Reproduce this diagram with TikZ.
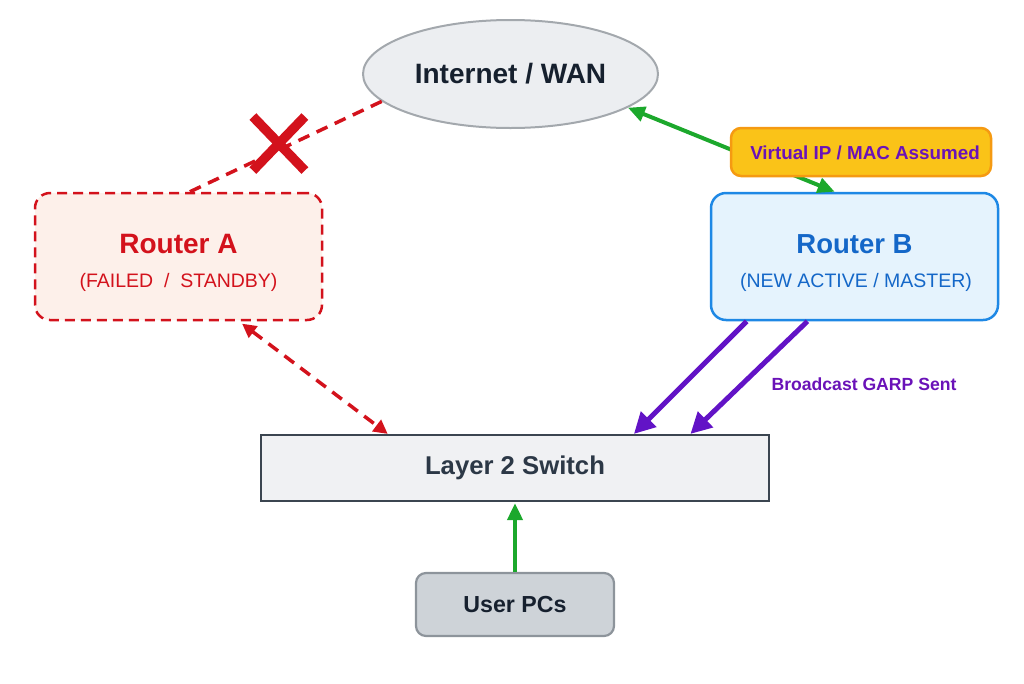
\documentclass[tikz,border=0pt]{standalone}
\usepackage{fontspec}
\setmainfont{Liberation Sans}
\usetikzlibrary{arrows.meta,shapes.geometric,calc}
\definecolor{redc}{HTML}{D3121C}
\definecolor{redfill}{HTML}{FDF0EA}
\definecolor{bluec}{HTML}{1E88E5}
\definecolor{bluetext}{HTML}{1467C8}
\definecolor{bluefill}{HTML}{E5F3FD}
\definecolor{yellowfill}{HTML}{FAC318}
\definecolor{orangec}{HTML}{F59A12}
\definecolor{purplec}{HTML}{6213C6}
\definecolor{purpletext}{HTML}{6A12B8}
\definecolor{greenc}{HTML}{1CA82C}
\definecolor{swborder}{HTML}{3B4550}
\definecolor{swfill}{HTML}{F0F1F3}
\definecolor{swtext}{HTML}{2C3846}
\definecolor{elfill}{HTML}{ECEEF1}
\definecolor{elborder}{HTML}{A3A8AD}
\definecolor{pcfill}{HTML}{CED3D8}
\definecolor{pcborder}{HTML}{8D949B}
\definecolor{darktext}{HTML}{16202E}
\tikzset{
  box/.style={inner sep=0pt, align=center},
  inetnode/.style={box, ellipse, draw=elborder, fill=elfill, line width=2pt,
    minimum width=295pt, minimum height=108pt, text=darktext,
    font=\fontsize{28}{32}\selectfont\bfseries},
  routera/.style={box, rounded corners=15pt, draw=redc, fill=redfill, line width=2.5pt,
    dash pattern=on 10pt off 6pt, minimum width=287pt, minimum height=127pt},
  routerb/.style={box, rounded corners=15pt, draw=bluec, fill=bluefill, line width=2.5pt,
    minimum width=287pt, minimum height=127pt},
  vlabel/.style={box, rounded corners=10pt, draw=orangec, fill=yellowfill, line width=2.5pt,
    minimum width=260pt, minimum height=48pt},
  vtext/.style={box, text=purpletext, font=\fontsize{18.8}{22}\selectfont\bfseries},
  switchbox/.style={box, draw=swborder, fill=swfill, line width=2.2pt,
    minimum width=508pt, minimum height=66pt, text=swtext,
    font=\fontsize{25.7}{30}\selectfont\bfseries},
  pcbox/.style={box, rounded corners=10pt, draw=pcborder, fill=pcfill, line width=2.2pt,
    minimum width=198pt, minimum height=63pt, text=darktext,
    font=\fontsize{23.2}{28}\selectfont\bfseries},
  garplabel/.style={box, text=purpletext, font=\fontsize{17.6}{21}\selectfont\bfseries},
  redlink/.style={draw=redc, line width=3.5pt, dash pattern=on 12pt off 8pt},
  redtip/.style={{Triangle[length=14pt,width=14pt]}-{Triangle[length=14pt,width=14pt]}},
  greenlink/.style={draw=greenc, line width=4pt},
  greentip/.style={-{Triangle[length=17pt,width=15pt]}},
  greenboth/.style={{Triangle[length=17pt,width=15pt]}-{Triangle[length=17pt,width=15pt]}},
  purplelink/.style={draw=purplec, line width=5pt, -{Triangle[length=21pt,width=21pt]}},
  crossmark/.style={draw=redc, line width=9.5pt},
}
\begin{document}
\begin{tikzpicture}[x=1pt,y=-1pt]
\useasboundingbox (0,0) rectangle (1024,683);

\node[inetnode] (inet) at (510.5,74) {Internet / WAN};
\node[routera] (ra) at (178.5,256.5) {};
\node[box, text=redc, font=\fontsize{28}{32}\selectfont\bfseries] (ratitle) at (178.5,244) {Router A};
\node[box, text=redc, font=\fontsize{19.5}{23}\selectfont] (rasub) at (178.5,282) {(FAILED~~/~~STANDBY)};
\node[routerb] (rb) at (854.5,256.5) {};
\node[box, text=bluetext, font=\fontsize{27.5}{32}\selectfont\bfseries] (rbtitle) at (854.5,244) {Router B};
\node[box, text=bluetext, font=\fontsize{19.5}{23}\selectfont] (rbsub) at (856,282) {(NEW ACTIVE / MASTER)};
\node[switchbox] (sw) at (515,468) {Layer 2 Switch};
\node[pcbox] (pc) at (515,604.5) {User PCs};

% failed link with cross
\draw[redlink] (ra.80) -- (inet.192);
\coordinate (xc) at ($(ra.80)!0.456!(inet.192)+(1.5,-7)$);
\draw[crossmark] ($(xc)+(-26,-27)$) -- ($(xc)+(26,27)$);
\draw[crossmark] ($(xc)+(26,-27)$) -- ($(xc)+(-26,27)$);

% standby link
\draw[redlink, redtip, shorten <=4pt] (ra.-47) -- (sw.165.5);

% active WAN link
\draw[greenlink, greenboth] (inet.-16) -- (rb.107);
\node[vlabel] (vip) at (861,152) {};
\node[vtext] (viptext) at (865,153) {Virtual IP / MAC Assumed};

% GARP
\draw[purplelink] (rb.211) -- (sw.16);
\draw[purplelink] (rb.234) -- (sw.11);
\node[garplabel] (garp) at (864,384) {Broadcast GARP Sent};

% user PCs
\draw[greenlink, greentip, shorten >=1pt] (pc.north) -- (sw.south);
\end{tikzpicture}
\end{document}
